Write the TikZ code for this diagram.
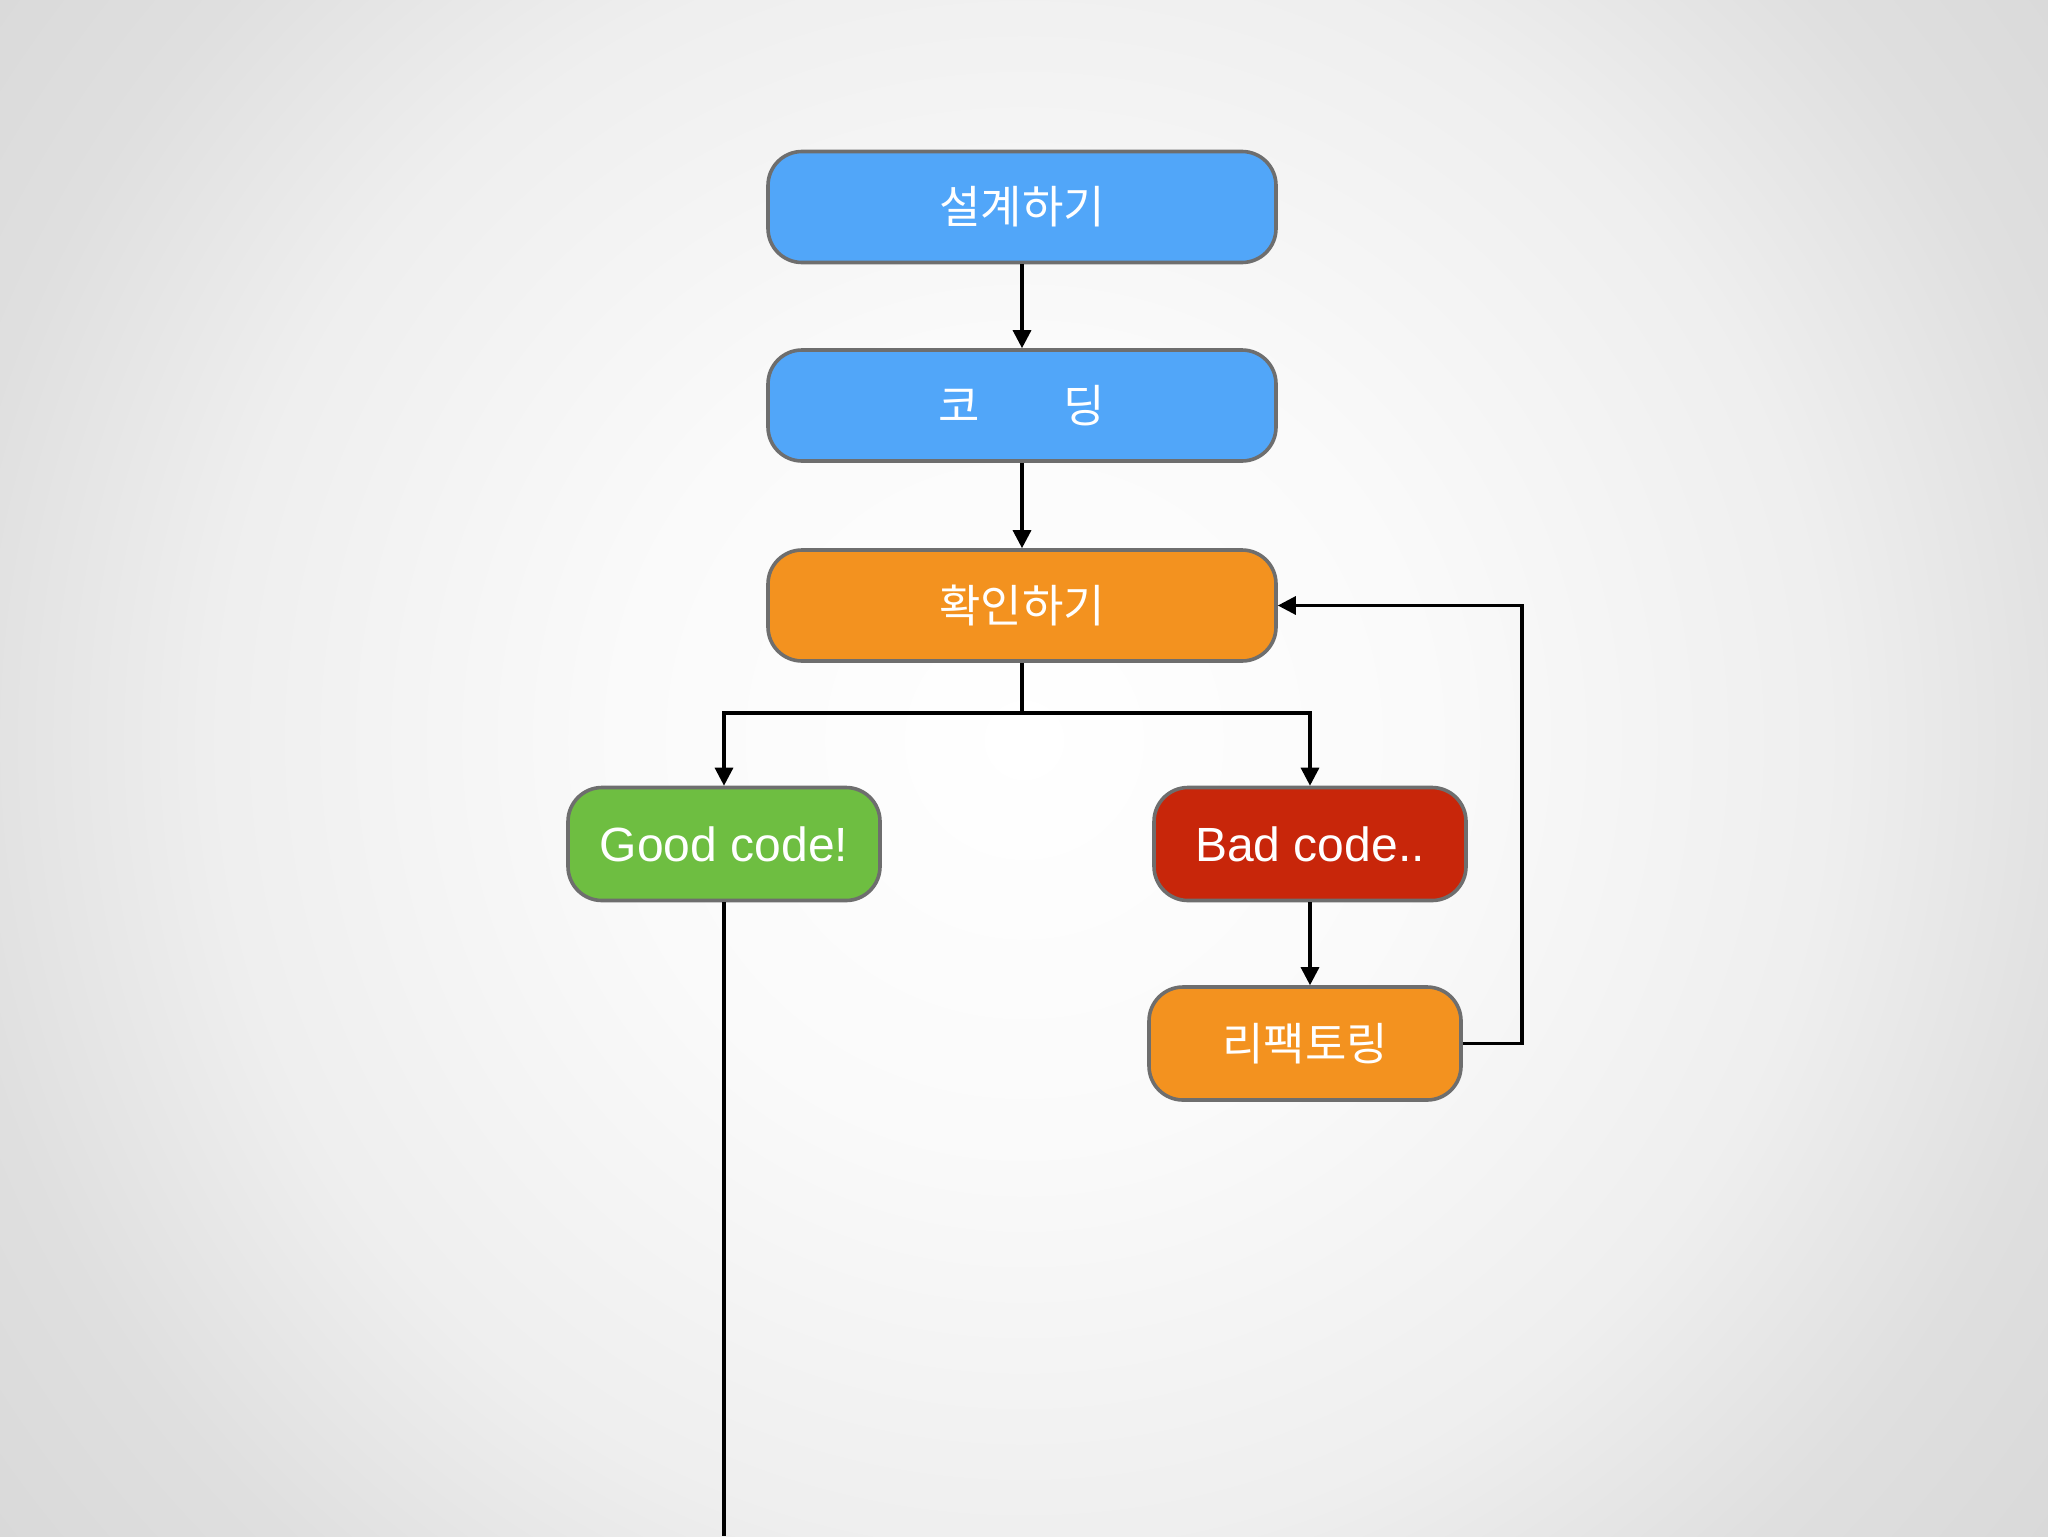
\documentclass[tikz,border=0pt]{standalone}
\usepackage{fontspec}
\setmainfont{Liberation Sans}
\newfontfamily\kr{Noto Sans CJK KR}
\usetikzlibrary{arrows.meta,positioning}
\definecolor{bluebox}{HTML}{51A6F9}
\definecolor{orangebox}{HTML}{F3921F}
\definecolor{greenbox}{HTML}{6EBE41}
\definecolor{redbox}{HTML}{C8260A}
\definecolor{borderc}{HTML}{6E6E6E}
\pgfdeclareradialshading{bgshade}{\pgfpoint{0bp}{0bp}}{color(0bp)=(white); color(15bp)=(white!98!black); color(30bp)=(white!93.5!black); color(40bp)=(white!87.5!black); color(50bp)=(white!84.5!black)}
\tikzset{
  box/.style={draw=borderc, line width=1.8pt, rounded corners=17pt, text=white, inner sep=0pt, align=center},
  wide/.style={box, minimum width=254pt, minimum height=55.5pt},
  narrow/.style={box, minimum width=156pt, minimum height=56.5pt},
  ktext/.style={font=\kr\fontsize{22.5pt}{26pt}\selectfont},
  ltext/.style={font=\fontsize{24pt}{28pt}\selectfont},
  conn/.style={line width=1.6pt, black},
  arr/.style={conn, -{Triangle[length=9pt,width=9pt]}}
}
\begin{document}
\begin{tikzpicture}[x=0.5pt,y=-0.5pt]
\useasboundingbox (0,0) rectangle (2048,1536);
\begin{scope}
\clip (0,0) rectangle (2048,1536);
\fill[white!84.5!black] (0,0) rectangle (2048,1536);
\node[inner sep=0pt, outer sep=0pt, scale=13.5] (bg) at (1024,740) {\pgfuseshading{bgshade}};
\end{scope}
\node[wide, fill=bluebox, ktext] (design) at (1022,207) {설계하기};
\node[wide, fill=bluebox, ktext] (coding) at (1022,405.5) {코\hspace{1.85em}딩};
\node[wide, fill=orangebox, ktext] (check) at (1022,605.5) {확인하기};
\node[narrow, fill=greenbox, ltext] (good) at (724,844) {Good code!};
\node[narrow, fill=redbox, ltext] (bad) at (1310,844) {Bad code..};
\node[narrow, fill=orangebox, ktext] (refac) at (1305,1043.5) {리팩토링};
\coordinate (split) at (1022,713);
\coordinate (loopR) at (1522,1043.5);
\coordinate (goodEnd) at (724,1536);
\draw[arr] (design) -- (coding);
\draw[arr] (coding) -- (check);
\draw[conn] (check.south) -- (split);
\draw[arr] (split) -| (good.north);
\draw[arr] (split) -| (bad.north);
\draw[arr] (bad.south) -- (bad.south |- refac.north);
\draw[arr] (refac.east) -- (loopR) |- (check.east);
\draw[conn] (good.south) -- (goodEnd);
\end{tikzpicture}
\end{document}
